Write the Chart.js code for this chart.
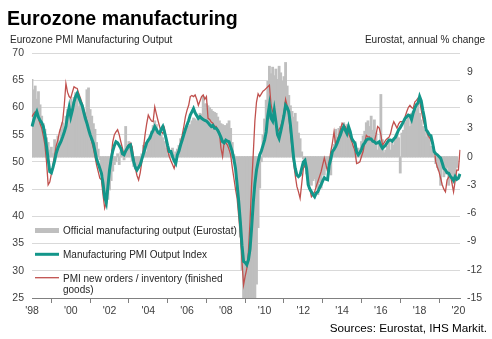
<!DOCTYPE html>
<html>
<head>
<meta charset="utf-8">
<script src="https://cdn.jsdelivr.net/npm/chart.js@4.4.0/dist/chart.umd.min.js"></script>
<style>
    html, body { margin: 0; padding: 0; background: #fff; }
    #chart { display: block; }
</style>
</head>
<body>
<canvas id="chart" width="492" height="339"></canvas>
<script>
// Meses: jan/1998 .. fev/2020
const months = [];
for (let y = 1998; y <= 2020; y++) {
    for (let m = 1; m <= 12; m++) {
        if (y === 2020 && m > 2) break;
        months.push(y + '-' + String(m).padStart(2, '0'));
    }
}

// Rótulos do eixo x (janeiro dos anos pares)
const tickLabels = ["'98", "'00", "'02", "'04", "'06", "'08", "'10", "'12", "'14", "'16", "'18", "'20"];

// Eurostat, variação anual % (eixo direito)
const officialOutput = [
    8.2, 7.1, 7.5, 6.1, 6.9, 5.5, 4.3, 3.5, 2.9, 2.0, 1.5, 0.7,
    1.0, 0.3, 1.8, 1.0, 2.2, 1.5, 2.9, 3.6, 3.2, 4.3, 5.0, 4.6,
    6.1, 5.8, 6.3, 6.8, 6.4, 5.3, 5.7, 5.0, 4.6, 4.3, 7.1, 7.3,
    5.0, 4.3, 3.5, 2.9, 1.5, 0.8, -0.3, -1.4, -2.0, -3.2, -4.9, -4.5,
    -3.5, -2.5, -1.5, -0.8, -0.5, 0.3, -0.8, 0.5, 0.2, -0.3, 3.2, 0.8,
    1.6, 1.5, -0.4, -1.0, -1.3, -0.8, -1.2, -0.5, 0.3, 1.2, 1.5, 0.5,
    1.8, 2.2, 2.7, 3.3, 3.8, 3.4, 2.7, 2.5, 2.3, 2.0, 1.6, 0.9,
    0.2, 0.6, 0.5, 0.9, 0.2, 0.5, 0.8, 1.2, 1.9, 2.0, 2.3, 2.6,
    3.0, 3.2, 3.4, 3.8, 4.1, 4.0, 3.8, 4.2, 4.6, 4.5, 6.4, 5.6,
    5.6, 5.4, 5.2, 5.0, 4.8, 4.7, 4.6, 4.2, 3.8, 3.5, 3.4, 3.3,
    3.3, 3.5, 3.8, 3.0, 1.5, 0.2, -0.6, -2.0, -4.5, -8.5, -12.0, -15.0,
    -17.0, -20.0, -21.0, -20.0, -19.0, -17.0, -15.5, -13.5, -7.5, -3.3, -0.5, 2.3,
    4.0, 6.0, 8.0, 9.6, 8.8, 9.5, 8.6, 9.3, 8.2, 9.6, 8.9, 8.0,
    8.5, 10.0, 7.5, 6.5, 5.4, 4.8, 4.2, 4.6, 3.7, 2.5, 1.9, 0.5,
    -0.2, -1.1, -1.8, -2.5, -2.8, -3.0, -2.5, -2.3, -3.2, -4.0, -2.7, -3.3,
    -1.9, -1.9, -1.2, -0.8, -1.3, -1.9, 0.3, 1.3, 2.9, 2.0, 3.0, 3.2,
    2.8, 3.6, 2.6, 3.4, 2.5, 1.8, 1.3, 0.7, 1.6, 0.7, 0.9, 0.6,
    1.6, 2.2, 2.7, 3.6, 3.8, 3.2, 4.3, 2.8, 3.9, 2.5, 0.7, 1.5,
    6.6, 1.8, 0.4, 0.7, 1.1, 1.8, 0.7, 1.5, 1.2, 2.2, 2.5, 2.0,
    -1.7, 2.5, 2.8, 3.6, 3.9, 4.3, 3.2, 4.6, 4.8, 5.4, 5.0, 5.7,
    4.6, 3.9, 3.2, 2.8, 2.1, 2.5, 1.8, 1.1, 0.7, 0.0, -0.7, -1.1,
    -1.4, -3.0, -1.1, -2.1, -1.8, -1.1, -3.0, -2.1, -1.8, -2.8, -2.1, -1.1,
    null, null
];

// Manufacturing PMI Output Index (eixo esquerdo)
const pmiOutput = [
    56.5, 57.6, 58.5, 59.2, 58.2, 57.6, 57.2, 56.5, 55.0, 52.8, 50.5, 48.2,
    48.0, 49.0, 50.2, 51.6, 52.5, 53.2, 53.8, 54.6, 55.5, 56.5, 58.5, 60.0,
    58.3, 59.5, 61.0, 62.0, 62.6, 61.8, 61.0, 60.4, 59.2, 58.0, 57.1, 56.0,
    55.0, 54.2, 53.4, 52.0, 50.5, 49.7, 48.8, 47.9, 46.0, 43.5, 42.5, 45.5,
    48.5, 50.5, 52.0, 53.0, 53.7, 53.5, 53.0, 52.5, 51.5, 51.3, 52.0, 52.5,
    53.0, 53.1, 51.5, 50.0, 49.0, 48.5, 49.0, 49.5, 50.5, 51.5, 52.5, 53.5,
    54.0, 54.4, 55.2, 55.8, 56.5, 56.0, 55.4, 55.2, 56.0, 56.5, 55.5, 54.3,
    53.0, 51.9, 51.9, 51.0, 50.2, 49.7, 51.3, 52.0, 53.1, 54.0, 55.0, 56.0,
    56.8, 57.6, 58.6, 59.2, 59.8, 59.0, 58.5, 58.0, 58.3, 58.0, 57.8, 57.6,
    57.5, 57.2, 56.8, 56.5, 56.7, 56.2, 56.2, 55.8, 55.2, 54.5, 53.7, 53.5,
    54.0, 53.8, 53.7, 52.8, 51.9, 50.5, 48.8, 45.8, 42.7, 39.0, 34.7, 31.7,
    31.5, 31.1, 32.0, 34.0, 38.0, 42.5, 46.0, 48.5, 50.0, 51.3, 52.0, 53.0,
    54.0, 55.5, 58.5, 60.4, 58.0, 57.5, 59.5, 57.4, 55.0, 54.3, 55.6, 57.0,
    58.5, 60.4, 60.0, 59.2, 56.8, 53.7, 50.7, 48.8, 47.6, 47.3, 47.6, 48.8,
    50.0, 50.3, 48.8, 45.8, 45.0, 44.5, 44.0, 43.6, 44.3, 44.5, 45.2, 45.8,
    46.5, 47.1, 46.8, 46.7, 49.4, 50.5, 51.9, 52.3, 52.8, 53.5, 54.3, 55.0,
    55.9, 56.5, 55.8, 55.2, 56.5, 55.6, 54.3, 53.8, 53.4, 51.8, 51.3, 51.7,
    52.3, 53.1, 53.5, 54.0, 54.2, 54.2, 54.2, 53.8, 53.7, 53.4, 53.5, 53.7,
    53.0, 52.5, 52.8, 53.1, 53.6, 54.0, 54.0, 53.8, 54.2, 54.5, 55.2, 55.9,
    56.3, 56.8, 57.4, 58.0, 58.3, 58.6, 58.5, 57.8, 59.0, 59.8, 60.5, 60.8,
    62.0, 61.2, 59.5, 58.0, 55.9, 55.5, 55.0, 54.8, 53.5, 51.9, 51.5, 51.3,
    51.0, 50.7, 49.8, 48.8, 48.5, 48.0, 47.9, 47.4, 47.0, 46.6, 47.3, 46.8,
    47.0, 47.8
];

// PMI new orders / inventory (finished goods) (eixo esquerdo)
const pmiOrdersInventory = [
    58.3, 58.8, 59.2, 58.8, 58.0, 57.0, 56.2, 54.8, 53.1, 50.0, 45.8, 46.3,
    47.8, 49.5, 51.2, 53.0, 54.0, 55.5, 56.5, 57.5, 60.5, 64.4, 62.8, 62.0,
    61.7, 62.8, 63.8, 63.6, 63.5, 62.5, 61.7, 60.8, 59.8, 58.6, 57.4, 56.2,
    54.9, 53.7, 52.5, 51.0, 49.4, 48.2, 47.0, 46.7, 43.9, 41.5, 42.5, 44.5,
    48.0, 51.0, 53.7, 55.0, 55.5, 55.9, 55.0, 53.7, 52.5, 51.3, 52.0, 52.8,
    53.2, 53.4, 52.8, 50.5, 48.8, 47.5, 46.7, 48.0, 50.0, 52.5, 55.0, 57.0,
    58.6, 58.0, 57.5, 57.4, 60.1, 58.8, 57.6, 56.5, 55.5, 55.2, 56.2, 54.0,
    52.0, 51.0, 50.2, 49.5, 48.8, 50.0, 51.2, 52.5, 53.5, 54.9, 56.5, 58.3,
    59.5, 60.4, 62.0, 62.2, 62.0, 62.3, 61.5, 60.4, 61.2, 62.0, 62.3, 61.5,
    62.0, 58.0, 57.8, 57.3, 57.1, 56.5, 56.5, 55.8, 55.5, 52.5, 51.0, 53.7,
    53.5, 53.1, 52.3, 51.3, 49.0, 47.0, 45.0, 43.3, 40.0, 36.6, 31.7, 27.4,
    29.0, 30.4, 33.5, 39.0, 46.0, 51.5, 57.5, 61.0, 62.5, 62.0, 62.5, 63.0,
    63.2, 63.5, 63.8, 64.1, 60.5, 59.2, 59.0, 57.0, 55.5, 56.0, 56.5, 57.5,
    59.0, 61.5, 60.3, 58.5, 55.5, 52.5, 49.8, 47.5, 45.5, 44.5, 43.3, 46.0,
    48.8, 49.4, 48.5, 46.4, 45.0, 43.6, 44.0, 44.5, 45.5, 46.4, 47.3, 48.2,
    49.5, 50.7, 49.5, 48.2, 50.0, 51.9, 53.5, 55.5, 53.1, 54.0, 54.9, 56.0,
    57.1, 56.8, 56.5, 55.8, 55.2, 54.5, 53.7, 52.8, 51.9, 49.7, 49.8, 50.0,
    51.0, 51.9, 53.5, 54.9, 54.6, 54.6, 54.0, 53.8, 53.7, 55.0, 56.5, 56.2,
    55.0, 53.1, 53.5, 54.0, 54.3, 54.5, 55.2, 56.5, 57.4, 56.8, 56.2, 57.0,
    57.4, 57.4, 57.4, 58.3, 59.2, 60.0, 60.4, 60.0, 59.8, 61.0, 61.3, 61.7,
    61.4, 59.5, 58.0, 56.8, 56.0, 55.0, 54.5, 54.0, 53.2, 52.5, 50.0, 49.0,
    48.2, 47.0, 45.8, 45.0, 44.5, 46.7, 47.2, 47.6, 46.1, 44.5, 46.5, 48.5,
    48.5, 52.2
];

const leftTicks = [25, 30, 35, 40, 45, 50, 55, 60, 65, 70];
const rightTicks = [-15, -12, -9, -6, -3, 0, 3, 6, 9];

const FONT = "'Liberation Sans', Arial, sans-serif";
const GRAY = '#bfbfbf';
const TEAL = '#13968a';
const RED = '#c0504d';

Chart.defaults.font.family = FONT;
Chart.defaults.color = '#404040';

/**
 * Título, subtítulos, legenda e fonte desenhados no canvas
 */
const decorPlugin = {
    id: 'decor',
    afterDraw(chart) {
        const ctx = chart.ctx;
        ctx.save();
        ctx.textBaseline = 'alphabetic';

        // Título
        ctx.fillStyle = '#000';
        ctx.font = 'bold 19.6px ' + FONT;
        ctx.textAlign = 'left';
        ctx.fillText('Eurozone manufacturing', 7, 24.5);

        // Subtítulos dos eixos
        ctx.fillStyle = '#262626';
        ctx.font = '10px ' + FONT;
        ctx.fillText('Eurozone PMI Manufacturing Output', 10, 43);
        ctx.textAlign = 'right';
        ctx.fillText('Eurostat, annual % change', 485, 43);

        // Fonte
        ctx.fillStyle = '#000';
        ctx.font = '11.7px ' + FONT;
        ctx.fillText('Sources: Eurostat, IHS Markit.', 487, 331.5);

        // Legenda
        ctx.textAlign = 'left';
        ctx.font = '10px ' + FONT;
        ctx.fillStyle = GRAY;
        ctx.fillRect(35, 228, 24, 5);

        ctx.strokeStyle = TEAL;
        ctx.lineWidth = 3;
        ctx.beginPath();
        ctx.moveTo(35, 254.3);
        ctx.lineTo(59, 254.3);
        ctx.stroke();

        ctx.strokeStyle = RED;
        ctx.lineWidth = 1.3;
        ctx.beginPath();
        ctx.moveTo(35, 277.7);
        ctx.lineTo(59, 277.7);
        ctx.stroke();

        ctx.fillStyle = '#262626';
        ctx.fillText('Official manufacturing output (Eurostat)', 63, 234);
        ctx.fillText('Manufacturing PMI Output Index', 63, 257.5);
        ctx.fillText('PMI new orders / inventory (finished', 63, 281.5);
        ctx.fillText('goods)', 63, 292.5);
        ctx.restore();
    }
};

new Chart(document.getElementById('chart'), {
    type: 'bar',
    data: {
        labels: months,
        datasets: [
            {
                type: 'line',
                label: 'Manufacturing PMI Output Index',
                data: pmiOutput,
                yAxisID: 'y',
                borderColor: TEAL,
                borderWidth: 3,
                pointRadius: 0,
                tension: 0,
                order: 1
            },
            {
                type: 'line',
                label: 'PMI new orders / inventory (finished goods)',
                data: pmiOrdersInventory,
                yAxisID: 'y',
                borderColor: RED,
                borderWidth: 1.3,
                pointRadius: 0,
                tension: 0,
                order: 2
            },
            {
                type: 'bar',
                label: 'Official manufacturing output (Eurostat)',
                data: officialOutput,
                yAxisID: 'y1',
                backgroundColor: GRAY,
                borderWidth: 0,
                inflateAmount: 0.6,
                barPercentage: 1,
                categoryPercentage: 1,
                order: 3
            }
        ]
    },
    options: {
        responsive: false,
        animation: false,
        events: [],
        layout: {
            padding: { top: 53, bottom: 21, left: 0, right: 0 }
        },
        plugins: {
            legend: { display: false },
            tooltip: { enabled: false }
        },
        scales: {
            x: {
                type: 'category',
                offset: false,
                grid: {
                    drawOnChartArea: false,
                    drawTicks: true,
                    tickLength: 5,
                    color: '#808080'
                },
                border: { display: true, color: '#808080' },
                afterBuildTicks: (scale) => {
                    scale.ticks = scale.ticks.filter(t => t.value % 24 === 0);
                },
                ticks: {
                    autoSkip: false,
                    maxRotation: 0,
                    padding: 2,
                    font: { size: 10.5 },
                    callback: (value) => tickLabels[value / 24]
                },
                afterFit: (scale) => { scale.height = 20; }
            },
            y: {
                position: 'left',
                min: 25,
                max: 70,
                afterBuildTicks: (scale) => {
                    scale.ticks = leftTicks.map(v => ({ value: v }));
                },
                grid: { color: '#d9d9d9', drawTicks: false },
                border: { display: false },
                ticks: { padding: 8, font: { size: 10.5 } },
                afterFit: (scale) => { scale.width = 32; }
            },
            y1: {
                position: 'right',
                min: -15,
                max: 11.03,
                afterBuildTicks: (scale) => {
                    scale.ticks = rightTicks.map(v => ({ value: v }));
                },
                grid: { display: false, drawTicks: false },
                border: { display: false },
                ticks: { padding: 7, font: { size: 10.5 } },
                afterFit: (scale) => { scale.width = 32; }
            }
        }
    },
    plugins: [decorPlugin]
});
</script>
</body>
</html>
